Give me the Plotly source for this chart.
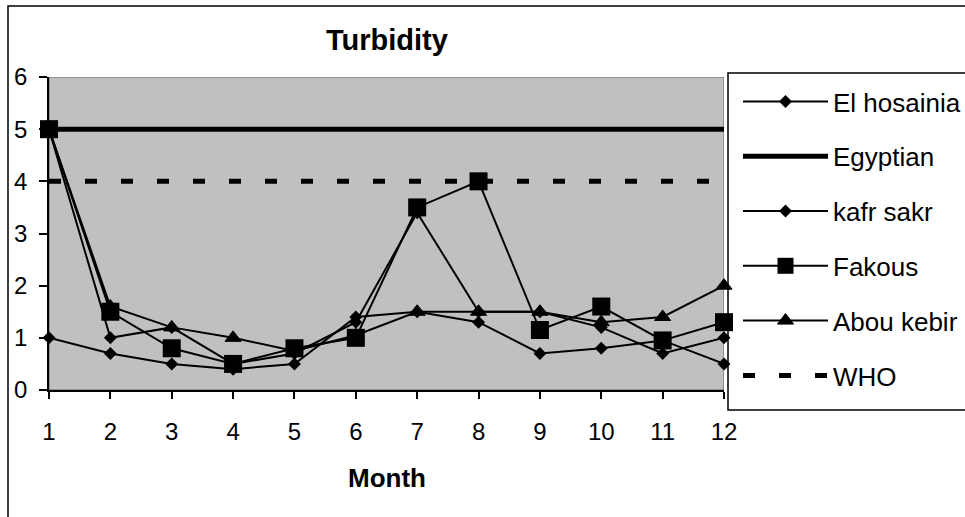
import plotly.graph_objects as go

# Monthly turbidity readings per station (NTU)
months = [1, 2, 3, 4, 5, 6, 7, 8, 9, 10, 11, 12]
el_hosainia = [5.0, 1.0, 1.2, 0.5, 0.7, 1.3, 3.4, 1.5, 1.5, 1.2, 0.7, 1.0]
kafr_sakr = [1.0, 0.7, 0.5, 0.4, 0.5, 1.4, 1.5, 1.3, 0.7, 0.8, 0.95, 0.5]
fakous = [5.0, 1.5, 0.8, 0.5, 0.8, 1.0, 3.5, 4.0, 1.15, 1.6, 0.95, 1.3]
abou_kebir = [5.0, 1.6, 1.2, 1.0, 0.75, 1.05, 1.5, 1.5, 1.5, 1.3, 1.4, 2.0]
# Permissible limits
egyptian = [5] * 12
who = [4] * 12

FONT = "Liberation Sans, Arial, sans-serif"

# pixel geometry of the plotting area
L, R, T, B = 49, 724, 77, 390
W, H = 965, 517


def px_x(p):
    return (p - L) / (R - L)


def px_y(p):
    return (B - p) / (B - T)


fig = go.Figure()

thin = dict(color="black", width=2)

fig.add_trace(go.Scatter(
    x=months, y=el_hosainia, name="El hosainia", mode="lines+markers",
    line=thin, marker=dict(symbol="diamond", size=10, color="black"),
    legendgroup="g1", cliponaxis=False))
fig.add_trace(go.Scatter(
    x=months, y=egyptian, name="Egyptian", mode="lines",
    line=dict(color="black", width=5),
    legendgroup="g2", cliponaxis=False))
fig.add_trace(go.Scatter(
    x=months, y=kafr_sakr, name="kafr sakr", mode="lines+markers",
    line=thin, marker=dict(symbol="diamond", size=10, color="black"),
    legendgroup="g3", cliponaxis=False))
fig.add_trace(go.Scatter(
    x=months, y=fakous, name="Fakous", mode="lines+markers",
    line=thin, marker=dict(symbol="square", size=18, color="black"),
    legendgroup="g4", cliponaxis=False))
fig.add_trace(go.Scatter(
    x=months, y=abou_kebir, name="Abou kebir", mode="lines+markers",
    line=thin, marker=dict(symbol="triangle-up", size=14, color="black",
                           line=dict(color="black", width=1)),
    legendgroup="g5", cliponaxis=False))
fig.add_trace(go.Scatter(
    x=months, y=who, name="WHO", mode="lines",
    line=dict(color="black", width=5, dash="12px,24px"),
    legendgroup="g6", cliponaxis=False))

fig.update_layout(
    width=W, height=H,
    margin=dict(l=L, r=W - R, t=T, b=H - B, pad=0, autoexpand=False),
    paper_bgcolor="white", plot_bgcolor="#C0C0C0",
    font=dict(family=FONT, color="black", size=24),
    showlegend=True,
    legend=dict(
        x=px_x(738), y=px_y(78), xanchor="left", yanchor="top",
        bgcolor="rgba(0,0,0,0)", borderwidth=0,
        itemwidth=85, tracegroupgap=18, traceorder="grouped",
        maxheight=500,
        font=dict(family=FONT, size=26, color="black"),
    ),
    xaxis=dict(
        range=[1, 12], tickmode="array", tickvals=months,
        ticks="outside", ticklen=7, tickwidth=1.5, tickcolor="black",
        showline=True, linecolor="black", linewidth=1.5,
        showgrid=False, zeroline=False,
        tickfont=dict(family=FONT, size=24, color="black"),
        ticklabelstandoff=12,
    ),
    yaxis=dict(
        range=[0, 6], tickmode="linear", tick0=0, dtick=1,
        ticks="outside", ticklen=8, tickwidth=1.5, tickcolor="black",
        showline=True, linecolor="black", linewidth=1.5,
        showgrid=False, zeroline=False,
        tickfont=dict(family=FONT, size=24, color="black"),
        ticklabelstandoff=7,
    ),
    shapes=[
        # chart frame
        dict(type="rect", xref="paper", yref="paper",
             x0=px_x(8), x1=px_x(980), y0=px_y(530), y1=px_y(6),
             line=dict(color="black", width=1.5), fillcolor="rgba(0,0,0,0)",
             layer="below"),
        # legend box
        dict(type="rect", xref="paper", yref="paper",
             x0=px_x(728), x1=px_x(980), y0=px_y(410), y1=px_y(73),
             line=dict(color="black", width=1.5), fillcolor="white",
             layer="below"),
        # plot area outline
        dict(type="rect", xref="x", yref="y", x0=1, x1=12, y0=0, y1=6,
             line=dict(color="#808080", width=1.5), layer="below"),
    ],
    annotations=[
        dict(text="<b>Turbidity</b>", xref="paper", yref="paper",
             x=0.5, y=px_y(40), xanchor="center", yanchor="middle",
             showarrow=False, font=dict(family=FONT, size=29, color="black")),
        dict(text="<b>Month</b>", xref="paper", yref="paper",
             x=0.5, y=px_y(478), xanchor="center", yanchor="middle",
             showarrow=False, font=dict(family=FONT, size=26, color="black")),
    ],
)

fig.write_html("out.html")
